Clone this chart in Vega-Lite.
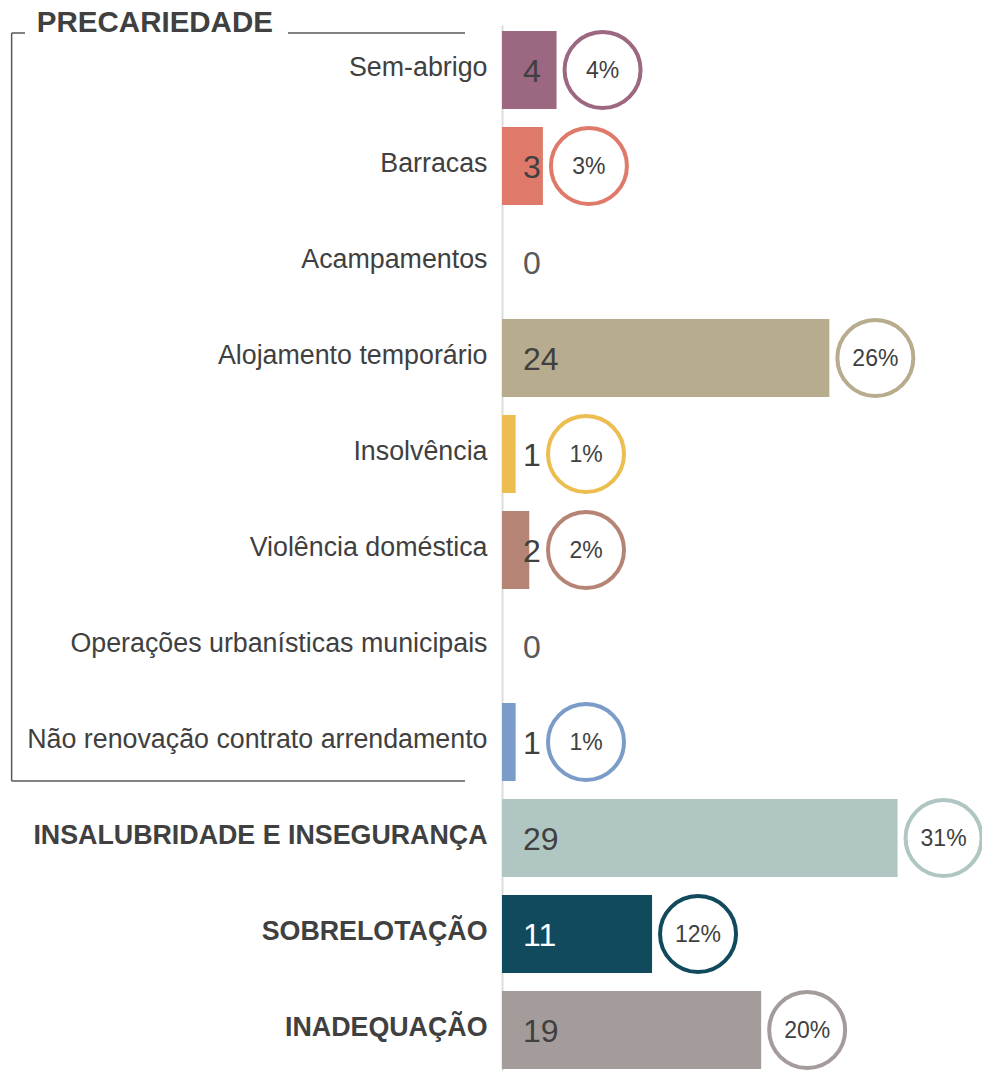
{
  "$schema": "https://vega.github.io/schema/vega-lite/v6.json",
  "width": 480,
  "height": 1046,
  "autosize": {"type": "none"},
  "padding": {"left": 502, "top": 25, "right": 0, "bottom": 0},
  "background": "white",
  "config": {
    "view": {"stroke": null},
    "font": "Liberation Sans",
    "axisY": {
      "ticks": false, "labelPadding": 15, "labelLimit": 600, "labelOffset": -2,
      "labelFontSize": 26.8, "labelColor": "#404040", "labelFont": "Liberation Sans",
      "domainColor": "#dcdcdc", "domainWidth": 2, "grid": false
    }
  },
  "datasets": {
    "cats": [
      {"cat": "Sem-abrigo", "n": 4, "pct": "4%"},
      {"cat": "Barracas", "n": 3, "pct": "3%"},
      {"cat": "Acampamentos", "n": 0, "pct": "0%"},
      {"cat": "Alojamento temporário", "n": 24, "pct": "26%"},
      {"cat": "Insolvência", "n": 1, "pct": "1%"},
      {"cat": "Violência doméstica", "n": 2, "pct": "2%"},
      {"cat": "Operações urbanísticas municipais", "n": 0, "pct": "0%"},
      {"cat": "Não renovação contrato arrendamento", "n": 1, "pct": "1%"},
      {"cat": "INSALUBRIDADE E INSEGURANÇA", "n": 29, "pct": "31%"},
      {"cat": "SOBRELOTAÇÃO", "n": 11, "pct": "12%"},
      {"cat": "INADEQUAÇÃO", "n": 19, "pct": "20%"}
    ],
    "groups": [
      {"group": "PRECARIEDADE", "first": "Sem-abrigo", "last": "Não renovação contrato arrendamento"}
    ]
  },
  "layer": [
    {
      "data": {"name": "cats"},
      "mark": {"type": "bar"},
      "encoding": {
        "y": {
          "field": "cat", "type": "nominal", "sort": null, "title": null,
          "scale": {
            "domain": ["Sem-abrigo", "Barracas", "Acampamentos", "Alojamento temporário", "Insolvência", "Violência doméstica", "Operações urbanísticas municipais", "Não renovação contrato arrendamento", "INSALUBRIDADE E INSEGURANÇA", "SOBRELOTAÇÃO", "INADEQUAÇÃO"],
            "paddingInner": 0.1875, "paddingOuter": 0.0417, "align": 0.75
          },
          "axis": {
            "title": null,
            "labelFontWeight": {"condition": {"test": "indexof(['INSALUBRIDADE E INSEGURANÇA','SOBRELOTAÇÃO','INADEQUAÇÃO'], datum.value) >= 0", "value": "bold"}, "value": "normal"}
          }
        },
        "x": {"field": "n", "type": "quantitative", "scale": {"domain": [0, 35.19], "nice": false, "zero": true}, "axis": null},
        "color": {
          "field": "cat", "type": "nominal", "legend": null,
          "scale": {
            "domain": ["Sem-abrigo", "Barracas", "Acampamentos", "Alojamento temporário", "Insolvência", "Violência doméstica", "Operações urbanísticas municipais", "Não renovação contrato arrendamento", "INSALUBRIDADE E INSEGURANÇA", "SOBRELOTAÇÃO", "INADEQUAÇÃO"],
            "range": ["#9C6781", "#DF7A6A", "#cccccc", "#B8AC8E", "#ECBE52", "#B58475", "#cccccc", "#7B9CC9", "#B0C6C3", "#124A5D", "#A49C9B"]
          }
        }
      }
    },
    {
      "data": {"name": "cats"},
      "mark": {"type": "text", "align": "left", "baseline": "middle", "dx": 21, "dy": 2, "fontSize": 32, "font": "Liberation Sans"},
      "encoding": {
        "y": {"field": "cat", "type": "nominal", "sort": null, "title": null},
        "x": {"datum": 0, "type": "quantitative"},
        "text": {"field": "n", "type": "quantitative"},
        "color": {
          "condition": [
            {"test": "datum.cat === 'SOBRELOTAÇÃO'", "value": "#ffffff"},
            {"test": "datum.n === 0", "value": "#595959"}
          ],
          "value": "#404040"
        }
      }
    },
    {
      "data": {"name": "cats"},
      "transform": [{"filter": "datum.n > 0"}],
      "mark": {"type": "point", "shape": "circle", "filled": true, "fill": "white", "strokeWidth": 4, "size": 5776, "opacity": 1, "fillOpacity": 1, "strokeOpacity": 1,
        "xOffset": {"expr": "max(0, 38 - datum.n * 13.64) + 46"}},
      "encoding": {
        "y": {"field": "cat", "type": "nominal", "sort": null, "title": null},
        "x": {"field": "n", "type": "quantitative"},
        "stroke": {
          "field": "cat", "type": "nominal", "legend": null,
          "scale": {
            "domain": ["Sem-abrigo", "Barracas", "Acampamentos", "Alojamento temporário", "Insolvência", "Violência doméstica", "Operações urbanísticas municipais", "Não renovação contrato arrendamento", "INSALUBRIDADE E INSEGURANÇA", "SOBRELOTAÇÃO", "INADEQUAÇÃO"],
            "range": ["#9C6781", "#DF7A6A", "#cccccc", "#B8AC8E", "#ECBE52", "#B58475", "#cccccc", "#7B9CC9", "#B0C6C3", "#124A5D", "#A49C9B"]
          }
        }
      }
    },
    {
      "data": {"name": "cats"},
      "transform": [{"filter": "datum.n > 0"}],
      "mark": {"type": "text", "align": "center", "baseline": "middle", "dy": 1, "fontSize": 23, "font": "Liberation Sans", "color": "#404040",
        "xOffset": {"expr": "max(0, 38 - datum.n * 13.64) + 46"}},
      "encoding": {
        "y": {"field": "cat", "type": "nominal", "sort": null, "title": null},
        "x": {"field": "n", "type": "quantitative"},
        "text": {"field": "pct", "type": "nominal"}
      }
    },
    {
      "data": {"name": "groups"},
      "mark": {"type": "rule", "color": "#595959", "strokeWidth": 1.5, "yOffset": -37, "y2Offset": 39},
      "encoding": {
        "x": {"datum": -35.95, "type": "quantitative"},
        "y": {"field": "first", "type": "nominal", "title": null},
        "y2": {"field": "last"}
      }
    },
    {
      "data": {"name": "groups"},
      "mark": {"type": "rule", "color": "#595959", "strokeWidth": 1.5, "yOffset": 39},
      "encoding": {
        "x": {"datum": -35.95, "type": "quantitative"},
        "x2": {"datum": -2.71},
        "y": {"field": "last", "type": "nominal", "title": null}
      }
    },
    {
      "data": {"name": "groups"},
      "mark": {"type": "rule", "color": "#595959", "strokeWidth": 1.5, "yOffset": -37},
      "encoding": {
        "x": {"datum": -35.95, "type": "quantitative"},
        "x2": {"datum": -34.97},
        "y": {"field": "first", "type": "nominal", "title": null}
      }
    },
    {
      "data": {"name": "groups"},
      "mark": {"type": "rule", "color": "#595959", "strokeWidth": 1.5, "yOffset": -37},
      "encoding": {
        "x": {"datum": -15.69, "type": "quantitative"},
        "x2": {"datum": -2.71},
        "y": {"field": "first", "type": "nominal", "title": null}
      }
    },
    {
      "data": {"name": "groups"},
      "mark": {"type": "text", "align": "left", "baseline": "alphabetic", "fontSize": 29.5, "fontWeight": "bold", "font": "Liberation Sans", "color": "#404040", "yOffset": -38},
      "encoding": {
        "x": {"datum": -34.1, "type": "quantitative"},
        "y": {"field": "first", "type": "nominal", "title": null},
        "text": {"field": "group", "type": "nominal"}
      }
    }
  ]
}
